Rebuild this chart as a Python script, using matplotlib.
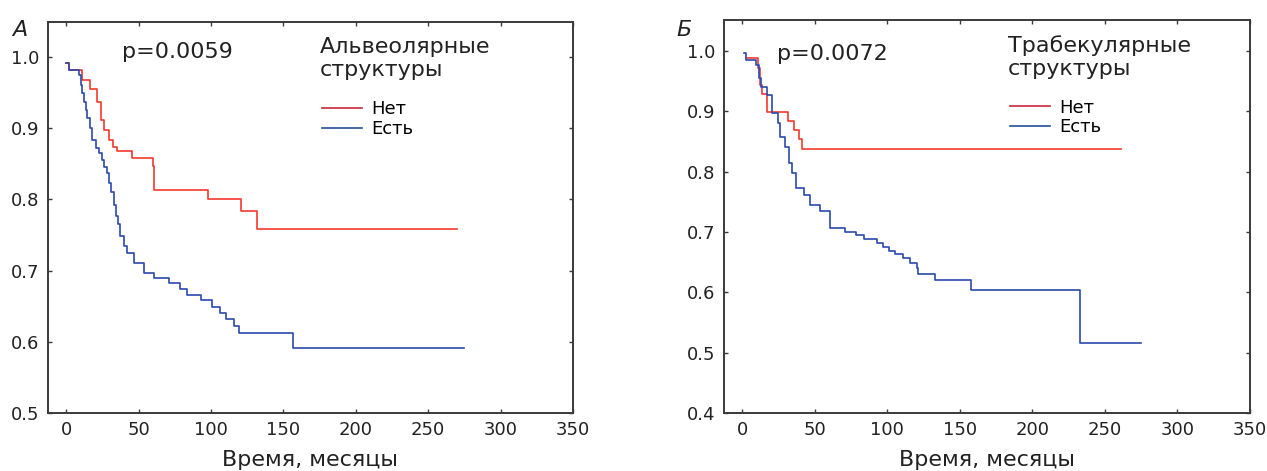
import matplotlib.pyplot as plt
from matplotlib.lines import Line2D

plt.rcParams['font.family'] = ['DejaVu Sans']

# Panel A: alveolar structures (time in months, survival)
a_no_t = [0, 2, 11, 16.5, 21, 23.8, 26, 29.6, 32.4, 35.4, 45.8, 59.7, 60.9, 98, 121, 132, 270]
a_no_s = [0.992, 0.981, 0.968, 0.955, 0.937, 0.912, 0.897, 0.883, 0.873, 0.868, 0.858, 0.847,
          0.813, 0.801, 0.784, 0.759, 0.759]
a_yes_t = [0, 2, 8.8, 10, 11, 12.3, 13.4, 14.6, 16.4, 18, 20.4, 22.7, 25, 26.2, 28, 29.6, 31.3,
           33.1, 34.3, 36.1, 37.3, 40, 41.9, 47, 53.7, 61, 71, 78.7, 83.8, 92.8, 100.9, 106,
           110.4, 116, 119.7, 157, 275]
a_yes_s = [0.992, 0.981, 0.975, 0.961, 0.949, 0.937, 0.925, 0.914, 0.900, 0.883, 0.872, 0.865,
           0.855, 0.846, 0.837, 0.823, 0.811, 0.792, 0.776, 0.766, 0.748, 0.734, 0.724, 0.710,
           0.697, 0.689, 0.682, 0.674, 0.666, 0.659, 0.649, 0.641, 0.632, 0.622, 0.612, 0.591,
           0.591]

# Panel B: trabecular structures
b_no_t = [3, 11, 12.4, 13.8, 17.4, 31.8, 36, 39.5, 41.5, 261]
b_no_s = [0.988, 0.972, 0.944, 0.928, 0.898, 0.884, 0.869, 0.854, 0.837, 0.837]
b_yes_t = [1.4, 2.8, 9.7, 11.6, 13.3, 17.4, 20.7, 24.9, 26.3, 29.6, 32.3, 34.5, 36.8, 42.3, 47,
           54, 60.8, 71, 78.8, 83.7, 92.6, 97.3, 100.9, 105.6, 110.6, 116, 120.2, 121, 132.7,
           157.5, 232.7, 275]
b_yes_s = [0.997, 0.985, 0.977, 0.955, 0.940, 0.927, 0.897, 0.880, 0.858, 0.841, 0.814, 0.797,
           0.772, 0.761, 0.745, 0.734, 0.706, 0.700, 0.695, 0.688, 0.682, 0.675, 0.669, 0.663,
           0.656, 0.649, 0.640, 0.631, 0.620, 0.604, 0.516, 0.516]

x_ticks = [0, 50, 100, 150, 200, 250, 300, 350]
red = '#f4382c'
blue = '#2a4aad'
spine_c = '#3a3a3a'
txt_c = '#222222'

fig = plt.figure(figsize=(12.67, 4.71), dpi=100)
axA = fig.add_axes([48 / 1267, 58 / 471, 525 / 1267, 391 / 471])
axB = fig.add_axes([724 / 1267, 58 / 471, 526 / 1267, 393 / 471])

panels = [
    (axA, a_no_t, a_no_s, a_yes_t, a_yes_s, (0.5, 1.049), [0.5, 0.6, 0.7, 0.8, 0.9, 1.0],
     'p=0.0059', 0.141, 0.908, 'Альвеолярные\nструктуры', 0.518, 'А', 12 / 1267),
    (axB, b_no_t, b_no_s, b_yes_t, b_yes_s, (0.4, 1.051), [0.4, 0.5, 0.6, 0.7, 0.8, 0.9, 1.0],
     'p=0.0072', 0.101, 0.898, 'Трабекулярные\nструктуры', 0.540, 'Б', 676 / 1267),
]

for ax, nt, ns, yt, ys, ylim, yticks, ptxt, px, py, title, tx, letter, lx in panels:
    ax.step(nt, ns, where='post', color=red, lw=1.2)
    ax.step(yt, ys, where='post', color=blue, lw=1.2)
    ax.set_xlim(-12.5, 350)
    ax.set_ylim(*ylim)
    ax.set_xticks(x_ticks)
    ax.set_yticks(yticks)
    ax.set_yticklabels([f'{v:.1f}' for v in yticks])
    for s in ax.spines.values():
        s.set_color(spine_c)
        s.set_linewidth(1.4)
    ax.tick_params(axis='both', direction='in', length=3, width=1, color=spine_c,
                   labelsize=13, labelcolor=txt_c, top=True, right=True, pad=6)
    ax.set_xlabel('Время, месяцы', fontsize=16, color=txt_c, labelpad=8)

    ax.text(px, py, ptxt, transform=ax.transAxes, fontsize=16, color=txt_c,
            va='baseline', ha='left')
    ax.text(tx, 0.962, title, transform=ax.transAxes, fontsize=16, color=txt_c,
            va='top', ha='left', linespacing=1.2)
    handles = [Line2D([], [], color='#c8283a', lw=1.2), Line2D([], [], color='#24509a', lw=1.2)]
    ax.legend(handles, ['Нет', 'Есть'], loc='upper left', bbox_to_anchor=(tx + 0.004, 0.80),
              frameon=False, fontsize=13, handlelength=2.2, handletextpad=0.5,
              labelspacing=0.1, borderpad=0, borderaxespad=0)
    fig.text(lx, 0.958, letter, fontsize=16, style='italic', color=txt_c,
             va='top', ha='left')

fig.savefig('out.png', dpi=100)
